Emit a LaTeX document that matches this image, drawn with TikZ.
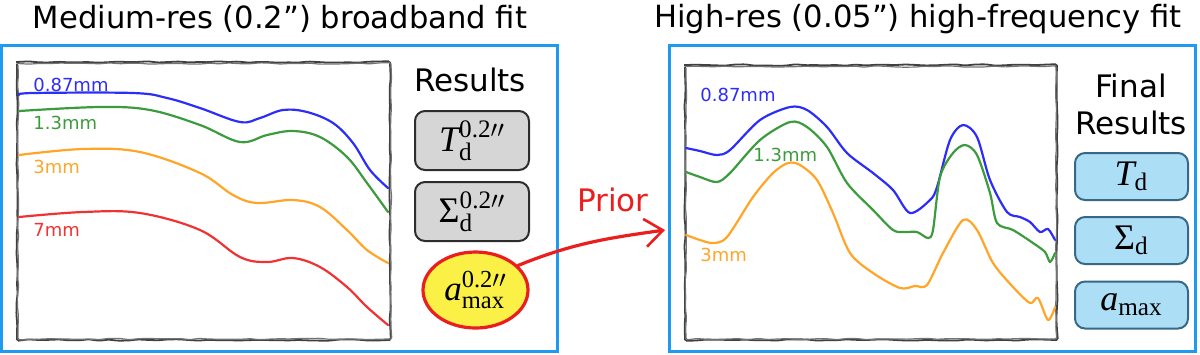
\documentclass[tikz,border=0pt]{standalone}
\usepackage{amsmath}
\usepackage{fontspec}
\newfontfamily\handfont{DejaVu Sans}
\newfontfamily\tmsf{Liberation Serif}
\newcommand{\mT}{\text{\tmsf\itshape T}}
\newcommand{\mA}{\text{\tmsf\itshape a}}
\newcommand{\mS}{\text{\tmsf Σ}}
\newcommand{\mR}[1]{\text{\tmsf #1}}
\newcommand{\supp}{\text{\tmsf 0.2}\prime\prime}
\usetikzlibrary{arrows.meta,decorations.pathmorphing,shapes.geometric}
\definecolor{frameblue}{RGB}{30,155,240}
\definecolor{cblue}{RGB}{45,45,250}
\definecolor{cgreen}{RGB}{60,155,60}
\definecolor{corange}{RGB}{255,165,40}
\definecolor{cred}{RGB}{240,50,50}
\definecolor{boxgray}{RGB}{214,214,214}
\definecolor{boxline}{RGB}{45,45,45}
\definecolor{lightsky}{RGB}{172,222,246}
\definecolor{skyline}{RGB}{55,105,135}
\definecolor{ellyellow}{RGB}{250,240,70}
\definecolor{arrowred}{RGB}{235,30,30}
\begin{document}
\begin{tikzpicture}[x=0.5bp,y=-0.5bp,
  panel/.style={draw=frameblue, line width=1.5bp, inner sep=0pt},
  title/.style={font=\handfont\fontsize{15.3bp}{18bp}\selectfont, text=black},
  head/.style={font=\handfont\fontsize{15.5bp}{18.5bp}\selectfont, text=black, align=center},
  lab/.style={font=\handfont\fontsize{9bp}{10bp}\selectfont, anchor=west, inner sep=0pt},
  graybox/.style={draw=boxline, fill=boxgray, line width=1bp, rounded corners=5bp,
    minimum width=57bp, minimum height=29.5bp, inner sep=0pt, font=\fontsize{18bp}{20bp}\selectfont},
  skybox/.style={draw=skyline, fill=lightsky, line width=1bp, rounded corners=5bp,
    minimum width=56.5bp, minimum height=23.5bp, inner sep=0pt, font=\fontsize{18bp}{20bp}\selectfont},
  curve/.style={line width=1.1bp, line join=round, line cap=round},
  sketch/.style={draw=black!75, line width=0.9bp, decorate,
    decoration={random steps, segment length=5bp, amplitude=0.35bp}, rounded corners=0.8bp},
]
\pgfmathsetseed{7}
\useasboundingbox (0,0) rectangle (1200,354);

% titles
\node[title] (t1) at (280,19) {Medium-res (0.2”) broadband fit};
\node[title] (t2) at (918,19) {High-res (0.05”) high-frequency fit};

% panels
\node[panel, minimum width=277.5bp, minimum height=153bp] (lframe) at (279.5,198) {};
\node[panel, minimum width=263bp, minimum height=153bp] (rframe) at (932,198) {};

% sketched plot boxes
\draw[sketch] (17,62) rectangle (390,340);
\draw[sketch, draw=black!55, line width=0.6bp] (18,63.5) rectangle (391,339);
\draw[sketch] (685,65) rectangle (1057,340);
\draw[sketch, draw=black!55, line width=0.6bp] (686,66.5) rectangle (1056,339);

% left curves
\draw[curve, cblue] plot[smooth, tension=0.6] coordinates {
 (19,95) (33,93) (133,93) (167,98) (200,108) (240,122) (260,118) (283,110)
 (307,112) (333,123) (353,143) (370,170) (388,188)};
\draw[curve, cgreen] plot[smooth, tension=0.6] coordinates {
 (19,111) (100,107) (150,110) (200,125) (240,142) (267,135) (293,131)
 (320,137) (347,157) (367,183) (388,212)};
\draw[curve, corange] plot[smooth, tension=0.6] coordinates {
 (19,155) (83,149) (140,152) (200,173) (233,195) (257,203) (293,200)
 (320,207) (347,230) (367,250) (388,263)};
\draw[curve, cred] plot[smooth, tension=0.6] coordinates {
 (19,217) (83,212) (140,213) (200,230) (240,257) (267,262) (293,258)
 (320,267) (347,287) (367,307) (388,325)};

\node[lab, text=cblue] (l1) at (33,85) {0.87mm};
\node[lab, text=cgreen] (l2) at (33,123) {1.3mm};
\node[lab, text=corange] (l3) at (33,167) {3mm};
\node[lab, text=cred] (l4) at (33,230) {7mm};

% right curves
\draw[curve, cblue] plot[smooth, tension=0.5] coordinates {
 (686,148) (700,151) (717,155) (730,150) (760,120) (790,107) (807,110) (827,127)
 (847,153) (873,173) (893,190) (910,213) (930,200) (937,187) (950,140)
 (963,125) (977,137) (990,180) (1007,212) (1020,217) (1030,222) (1040,232)
 (1048,229) (1055,240)};
\draw[curve, cgreen] plot[smooth, tension=0.5] coordinates {
 (686,172) (700,177) (717,182) (730,173) (760,140) (790,122) (807,127) (827,147)
 (847,183) (873,210) (893,230) (905,232) (917,232) (928,238) (933,230) (940,177)
 (953,153) (965,145) (977,155) (990,193) (997,223) (1013,230) (1033,243)
 (1045,252) (1050,262) (1055,253)};
\draw[curve, corange] plot[smooth, tension=0.5] coordinates {
 (686,235) (700,240) (713,243) (727,237) (753,197) (773,173) (788,163) (800,165)
 (817,180) (833,213) (850,253) (873,273) (900,288) (915,286) (927,285) (943,253)
 (963,220) (977,230) (993,263) (1013,287) (1030,303) (1038,298) (1048,320)
 (1055,307)};

\node[lab, text=cblue] (r1) at (700,95) {0.87mm};
\node[lab, text=cgreen] (r2) at (753,155) {1.3mm};
\node[lab, text=corange] (r3) at (700,255) {3mm};

% left results
\node[head] (res1) at (470,80) {Results};
\node[graybox] (td0) at (472,140.5) {$\mT_{\mR{d}}^{\supp}$};
\node[graybox] (sd0) at (472,211.5) {$\mS_{\mR{d}}^{\supp}$};
\node[ellipse, draw=arrowred, fill=ellyellow, line width=1.6bp, minimum width=52.5bp,
  minimum height=38bp, inner sep=0pt]
  (am0) at (475.5,290) {};
\node[inner sep=0pt, font=\fontsize{17.5bp}{20bp}\selectfont] (am0t) at (am0.center) {$\mA_{\mR{max}}^{\supp}$};

% right results
\node[head] (res2) at (1131,104) {Final\\Results};
\node[skybox] (td) at (1131.5,176.5) {$\mT_{\mR{d}}$};
\node[skybox] (sd) at (1131.5,240.5) {$\mS_{\mR{d}}$};
\node[skybox] (am) at (1131.5,305) {$\mA_{\mR{max}}$};

% prior arrow
\coordinate (tip) at (665,230);
\draw[arrowred, line width=1.6bp, line cap=round,
  -{Straight Barb[length=9bp, width=14bp, line width=1.3bp]}]
  (am0.30) to[out=22, in=188] (tip);
\node[font=\handfont\fontsize{15.5bp}{18bp}\selectfont, text=arrowred] (prior) at (613,200) {Prior};
\end{tikzpicture}
\end{document}
